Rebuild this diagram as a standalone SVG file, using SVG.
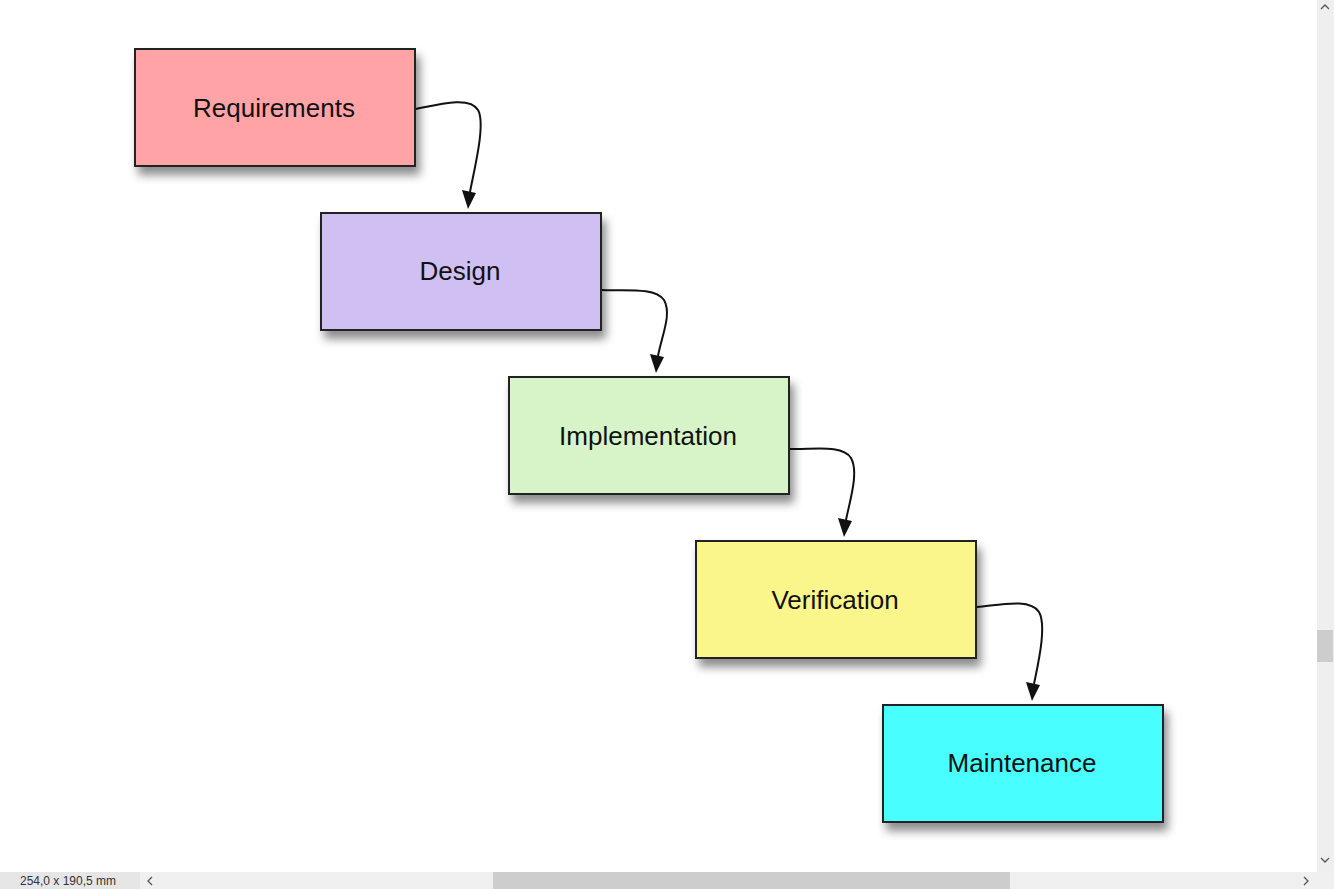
<svg xmlns="http://www.w3.org/2000/svg" width="1334" height="889" viewBox="0 0 1334 889">
<style>
.box{stroke:#222;stroke-width:2}
.lbl{font-family:"Liberation Sans",Arial,sans-serif;font-size:26px;fill:#111;text-anchor:middle;dominant-baseline:central}
.con{fill:none;stroke:#111;stroke-width:2}
.head{fill:#111}
.ui{font-family:"Liberation Sans",Arial,sans-serif;font-size:12px;fill:#333}
</style>
<defs>
<filter id="sh" x="-20%" y="-20%" width="150%" height="160%">
<feDropShadow dx="4" dy="8" stdDeviation="5" flood-color="#000" flood-opacity="0.45"/>
</filter>
</defs>
<rect width="1334" height="889" fill="#fff"/>
<g id="connectors">
<path class="con" d="M416,109 C440,104 470,96 478,110 C486,124 474,170 470,192"/>
<path class="head" d="M462,190 L476,193 L468,209 Z"/>
<path class="con" d="M602,290 C625,291 655,287 664,300 C672,314 662,335 658,356"/>
<path class="head" d="M650,354 L664,357 L656,373 Z"/>
<path class="con" d="M790,449 C812,450 842,444 851,458 C859,472 850,500 846,520"/>
<path class="head" d="M838,518 L852,521 L844,537 Z"/>
<path class="con" d="M977,607 C1000,605 1030,598 1039,612 C1047,626 1038,664 1034,684"/>
<path class="head" d="M1026,682 L1040,685 L1032,701 Z"/>
</g>
<g id="requirements">
<rect class="box" x="135" y="49" width="280" height="117" fill="#ffa3a6" filter="url(#sh)"/>
<text class="lbl" x="274" y="108">Requirements</text>
</g>
<g id="design">
<rect class="box" x="321" y="213" width="280" height="117" fill="#d0bff2" filter="url(#sh)"/>
<text class="lbl" x="460" y="271">Design</text>
</g>
<g id="implementation">
<rect class="box" x="509" y="377" width="280" height="117" fill="#d7f4c9" filter="url(#sh)"/>
<text class="lbl" x="648" y="436">Implementation</text>
</g>
<g id="verification">
<rect class="box" x="696" y="541" width="280" height="117" fill="#faf68b" filter="url(#sh)"/>
<text class="lbl" x="835" y="600">Verification</text>
</g>
<g id="maintenance">
<rect class="box" x="883" y="705" width="280" height="117" fill="#49fefe" filter="url(#sh)"/>
<text class="lbl" x="1022" y="763">Maintenance</text>
</g>
<g id="window-ui">
<rect x="1317" y="0" width="17" height="872" fill="#efefef"/>
<rect x="1317" y="630" width="16" height="32" fill="#cdcdcd"/>
<path d="M1321,9 L1325,5 L1329,9" fill="none" stroke="#555" stroke-width="1.3"/>
<path d="M1321,858 L1325,862 L1329,858" fill="none" stroke="#555" stroke-width="1.3"/>
<rect x="0" y="872" width="1334" height="17" fill="#f0f0f0"/>
<rect x="0" y="872" width="140" height="17" fill="#e6e6e6"/>
<rect x="493" y="872" width="517" height="17" fill="#cdcdcd"/>
<text class="ui" x="20" y="885">254,0 x 190,5 mm</text>
<path d="M152,877 L148,881 L152,885" fill="none" stroke="#555" stroke-width="1.3"/>
<path d="M1304,877 L1308,881 L1304,885" fill="none" stroke="#555" stroke-width="1.3"/>
</g>
</svg>
